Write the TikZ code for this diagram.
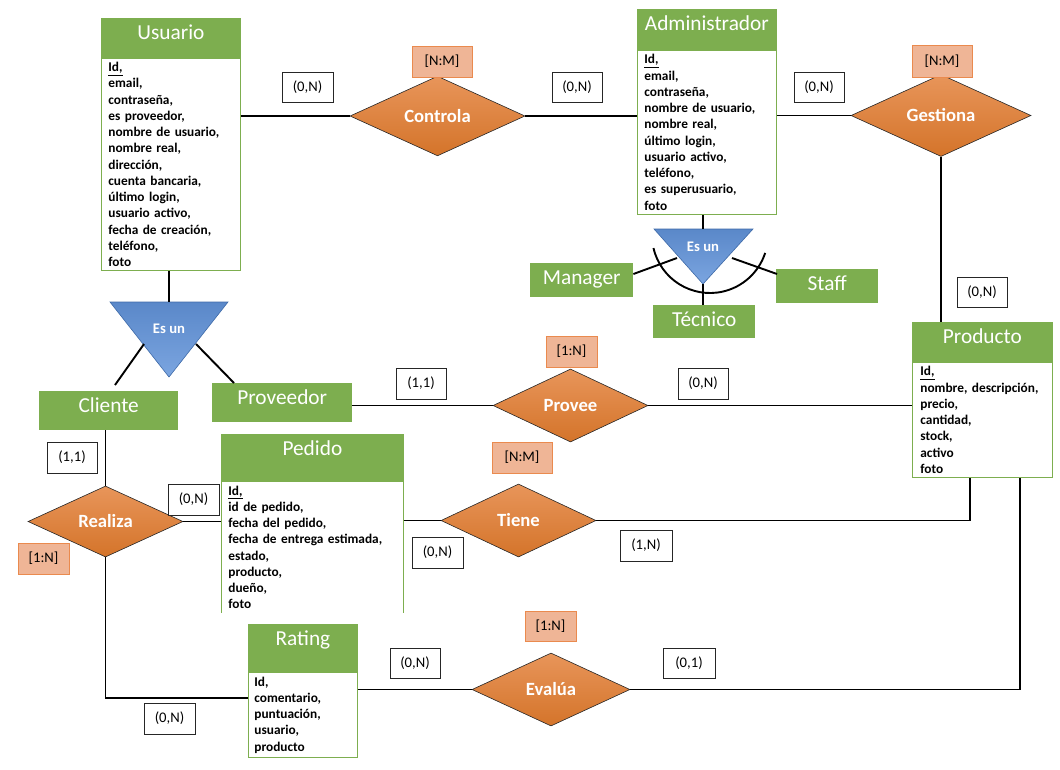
\documentclass[tikz,border=0pt]{standalone}
\usepackage{fontspec}
\setmainfont{Carlito}
\usetikzlibrary{shapes.geometric,calc}
\definecolor{egreen}{HTML}{7DAE4F}
\definecolor{orTop}{HTML}{E8955A}
\definecolor{orBot}{HTML}{D4742A}
\definecolor{blTop}{HTML}{5A88C9}
\definecolor{blBot}{HTML}{7BA5E0}
\definecolor{blEdge}{HTML}{3E6AA8}
\definecolor{salmon}{HTML}{EFB596}
\definecolor{orEdge}{HTML}{EA8A4E}
\begin{document}
\begin{tikzpicture}[x=1pt,y=-1pt,
  head/.style={fill=egreen, draw=egreen, line width=0.8pt, text=white, inner sep=0pt,
    anchor=north west, font=\fontsize{21.33}{24}\selectfont, text height=21.5pt},
  attrs/.style={draw=egreen, line width=0.8pt, fill=white, anchor=north west, inner ysep=0pt,
    align=left, font=\bfseries\fontsize{13.33}{16.25}\selectfont},
  subt/.style={fill=egreen, text=white, inner sep=0pt, anchor=north west,
    font=\fontsize{21.33}{24}\selectfont, text height=21pt},
  relbox/.style={diamond, draw=black!85, line width=0.6pt, top color=orTop, bottom color=orBot,
    text=white, font=\bfseries\fontsize{18.67}{20}\selectfont, inner sep=0pt},
  cardbox/.style={draw=black!85, line width=1pt, fill=white, inner sep=0pt,
    minimum height=30pt, font=\fontsize{14.67}{16}\selectfont},
  ratbox/.style={draw=orEdge, line width=0.8pt, fill=salmon, inner sep=0pt,
    minimum height=31pt, font=\fontsize{14.67}{16}\selectfont},
  link/.style={line width=1.9pt, black},
  isatext/.style={text=white, font=\bfseries\fontsize{14.67}{16}\selectfont, inner sep=0pt},
  isatri/.style={draw=blEdge, line width=0.6pt, top color=blTop, bottom color=blBot}
]
\useasboundingbox (0,0) rectangle (1060,769);

% ---------- entities ----------
\node[head, minimum width=139pt, text depth=18.5pt] (usrh) at (101,18) {Usuario};
\node[attrs, text width=125pt, inner xsep=7pt, minimum height=212pt] (usrb) at (101,58)
  {\underline{Id,}\\ email,\\ contraseña,\\ es proveedor,\\ nombre de usuario,\\ nombre real,\\
   dirección,\\ cuenta bancaria,\\ último login,\\ usuario activo,\\ fecha de creación,\\ teléfono,\\ foto};

\node[head, minimum width=139pt, text depth=19.5pt] (admh) at (637,9) {Administrador};
\node[attrs, text width=125pt, inner xsep=7pt, minimum height=164pt] (admb) at (637,50)
  {\underline{Id,}\\ email,\\ contraseña,\\ nombre de usuario,\\ nombre real,\\ último login,\\
   usuario activo,\\ teléfono,\\ es superusuario,\\ foto};

\node[head, minimum width=140pt, text depth=18.5pt] (prodh) at (912,322) {Producto};
\node[attrs, text width=124pt, inner xsep=8pt, minimum height=115pt] (prodb) at (912,362)
  {\underline{Id,}\\ nombre, descripción,\\ precio,\\ cantidad,\\ stock,\\ activo\\ foto};

\node[head, minimum width=182pt, text depth=26.5pt] (pedh) at (221,434) {Pedido};
\node[attrs, draw=none, text width=168pt, inner xsep=7pt, minimum height=130pt] (pedb) at (221,482)
  {\underline{Id,}\\ id de pedido,\\ fecha del pedido,\\ fecha de entrega estimada,\\ estado,\\
   producto,\\ dueño,\\ foto};
\draw[egreen, line width=0.8pt] (pedb.north west) -- (pedb.south west)
  (pedb.north east) -- (pedb.south east);

\node[head, minimum width=109pt, text height=21pt, text depth=27pt] (rath) at (248,624) {Rating};
\node[attrs, text width=97pt, inner xsep=6pt, minimum height=85pt] (ratb) at (248,672)
  {Id,\\ comentario,\\ puntuación,\\ usuario,\\ producto};

% ---------- subtypes ----------
\node[subt, minimum width=139pt, text depth=18pt] (cli) at (39,391) {Cliente};
\node[subt, minimum width=140pt, text depth=18pt] (prv) at (212,383) {Proveedor};
\node[subt, minimum width=103pt, text depth=13pt] (mgr) at (530,263) {Manager};
\node[subt, minimum width=102pt, text depth=12pt] (tec) at (653,305) {Técnico};
\node[subt, minimum width=102pt, text depth=13pt] (stf) at (776,269) {Staff};

% ---------- relationships ----------
\node[relbox, minimum width=175pt, minimum height=72pt] (ctl) at (437.5,116) {Controla};
\node[relbox, minimum width=180pt, minimum height=73pt] (gst) at (941,115.5) {Gestiona};
\node[relbox, minimum width=155pt, minimum height=73pt] (pve) at (570.5,405.5) {Provee};
\node[relbox, minimum width=155pt, minimum height=73pt] (tie) at (518.5,520.5) {Tiene};
\node[relbox, minimum width=155pt, minimum height=71pt] (rea) at (105.5,521.5) {Realiza};
\node[relbox, minimum width=158pt, minimum height=73pt] (eva) at (551,689.5) {Evalúa};

% ---------- specialisation triangles ----------
\coordinate (t1l) at (110,302);
\coordinate (t1r) at (228,302);
\coordinate (t1b) at (169,377);
\coordinate (t1top) at (169,302);
\shade[isatri] (t1l) -- (t1r) -- (t1b) -- cycle;
\node[isatext] (isa1) at (169,329) {Es un};

\coordinate (t2l) at (654,229);
\coordinate (t2r) at (753,229);
\coordinate (t2b) at (703,284);
\coordinate (t2top) at (703,229);
\shade[isatri] (t2l) -- (t2r) -- (t2b) -- cycle;
\node[isatext] (isa2) at (703,247) {Es un};
\coordinate (arcc) at (710,235);
\draw[line width=1.9pt] ([shift={(193:58pt)}]arcc) arc[start angle=193, end angle=342, radius=58pt];

% ---------- connectors ----------
\draw[link] (usrb.east |- ctl.west) -- (ctl.west);
\draw[link] (ctl.east) -- (ctl.east -| admb.west);
\draw[link] (admb.east |- gst.west) -- (gst.west);
\draw[link] (gst.south) -- (gst.south |- prodh.north);

\draw[link] (t1top |- usrb.south) -- (t1top);
\draw[link] (144,344) -- ($(cli.north west)+(76,-6)$);
\draw[link] (196,344) -- ($(prv.north west)+(22,0)$);

\draw[link] (t2top |- admb.south) -- (t2top);
\draw[link] (t2b) -- (t2b |- tec.north);
\draw[link] (677,258) -- ($(mgr.north east)+(0,11)$);
\draw[link] (732,258) -- ($(stf.north west)+(1,5)$);

\draw[link] (rea.north |- cli.south) -- (rea.north);
\draw[link] (rea.east) -- (rea.east -| pedb.west);
\draw[link] (rea.south) |- ($(ratb.north west)+(0,26)$);
\draw[link] (pve.west -| prv.east) -- (pve.west);
\draw[link] (pve.east) -- (pve.east -| prodb.west);
\draw[link] (pedb.east |- tie.west) -- (tie.west);
\draw[link] (tie.east) -| ($(prodb.south west)+(58,0)$);
\draw[link] (ratb.east |- eva.west) -- (eva.west);
\draw[link] (eva.east) -| ($(prodb.south west)+(108,0)$);

% ---------- cardinalities ----------
\node[cardbox, minimum width=51pt] (c1) at (307.5,87) {(0,N)};
\node[cardbox, minimum width=50pt] (c2) at (577,87) {(0,N)};
\node[cardbox, minimum width=50pt] (c3) at (819,87) {(0,N)};
\node[cardbox, minimum width=50pt] (c4) at (982,292) {(0,N)};
\node[cardbox, minimum width=50pt, minimum height=31pt] (c5) at (421,383.5) {(1,1)};
\node[cardbox, minimum width=50pt, minimum height=31pt] (c6) at (703,383.5) {(0,N)};
\node[cardbox, minimum width=50pt, minimum height=31pt] (c7) at (72,457.5) {(1,1)};
\node[cardbox, minimum width=51pt, minimum height=31pt] (c8) at (193.5,499.5) {(0,N)};
\node[cardbox, minimum width=51pt, minimum height=31pt] (c9) at (437.5,552.5) {(0,N)};
\node[cardbox, minimum width=52pt, minimum height=31pt] (c10) at (646,545.5) {(1,N)};
\node[cardbox, minimum width=51pt, minimum height=31pt] (c11) at (169.5,718.5) {(0,N)};
\node[cardbox, minimum width=50pt, minimum height=30pt] (c12) at (415,663) {(0,N)};
\node[cardbox, minimum width=52pt, minimum height=30pt] (c13) at (689,663) {(0,1)};

% ---------- relationship ratios ----------
\node[ratbox, minimum width=60pt] (m1) at (442,61.5) {[N:M]};
\node[ratbox, minimum width=60pt, minimum height=32pt] (m2) at (942,61) {[N:M]};
\node[ratbox, minimum width=51pt] (m3) at (571.5,351.5) {[1:N]};
\node[ratbox, minimum width=60pt] (m4) at (522,457.5) {[N:M]};
\node[ratbox, minimum width=51pt] (m5) at (43.5,558.5) {[1:N]};
\node[ratbox, minimum width=51pt, minimum height=30pt] (m6) at (550.5,626) {[1:N]};
\end{tikzpicture}
\end{document}
